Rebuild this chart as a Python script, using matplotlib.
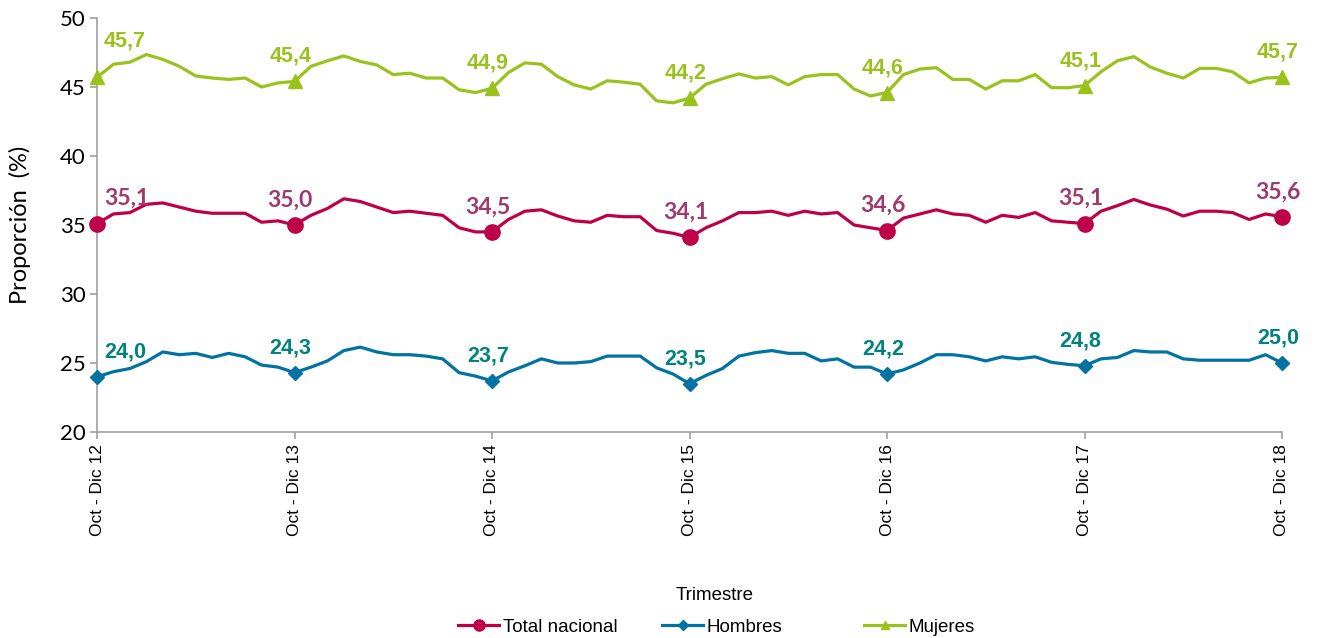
import matplotlib.pyplot as plt
from matplotlib.lines import Line2D

# 73 rolling quarters, Oct-Dic 12 ... Oct-Dic 18 (monthly steps)
tick_labels = ["Oct - Dic 12", "Oct - Dic 13", "Oct - Dic 14", "Oct - Dic 15",
               "Oct - Dic 16", "Oct - Dic 17", "Oct - Dic 18"]

total = [35.1, 35.8, 35.9, 36.5, 36.6, 36.3, 36.0, 35.85, 35.85, 35.85, 35.2, 35.3,
         35.0, 35.7, 36.2, 36.9, 36.7, 36.3, 35.9, 36.0, 35.85, 35.7, 34.8, 34.5,
         34.5, 35.4, 36.0, 36.1, 35.65, 35.3, 35.2, 35.7, 35.6, 35.6, 34.6, 34.4,
         34.1, 34.8, 35.3, 35.9, 35.9, 36.0, 35.7, 36.0, 35.8, 35.9, 35.0, 34.8,
         34.6, 35.5, 35.8, 36.1, 35.8, 35.7, 35.2, 35.7, 35.55, 35.9, 35.3, 35.2,
         35.1, 36.0, 36.4, 36.85, 36.45, 36.15, 35.65, 36.0, 36.0, 35.9, 35.4, 35.8,
         35.6]

hombres = [24.0, 24.37, 24.6, 25.1, 25.8, 25.6, 25.7, 25.4, 25.7, 25.45, 24.85, 24.7,
           24.3, 24.7, 25.15, 25.9, 26.15, 25.8, 25.6, 25.6, 25.5, 25.3, 24.3, 24.05,
           23.7, 24.35, 24.8, 25.3, 25.0, 25.0, 25.1, 25.5, 25.5, 25.5, 24.65, 24.2,
           23.5, 24.1, 24.6, 25.5, 25.75, 25.9, 25.7, 25.7, 25.15, 25.3, 24.7, 24.7,
           24.2, 24.5, 25.0, 25.6, 25.6, 25.45, 25.15, 25.45, 25.3, 25.45, 25.05, 24.9,
           24.8, 25.3, 25.4, 25.9, 25.8, 25.8, 25.3, 25.2, 25.2, 25.2, 25.2, 25.6,
           25.0]

mujeres = [45.7, 46.65, 46.8, 47.35, 47.0, 46.5, 45.8, 45.65, 45.55, 45.65, 45.0, 45.3,
           45.4, 46.5, 46.9, 47.25, 46.85, 46.6, 45.9, 46.0, 45.65, 45.65, 44.8, 44.6,
           44.9, 46.05, 46.75, 46.65, 45.75, 45.15, 44.85, 45.45, 45.35, 45.2, 44.0, 43.85,
           44.2, 45.2, 45.6, 45.95, 45.65, 45.75, 45.15, 45.75, 45.9, 45.9, 44.85, 44.35,
           44.6, 45.9, 46.3, 46.4, 45.55, 45.55, 44.85, 45.45, 45.45, 45.9, 44.95, 44.95,
           45.1, 46.1, 46.9, 47.2, 46.45, 46.0, 45.65, 46.35, 46.35, 46.1, 45.3, 45.65,
           45.7]

x = list(range(len(total)))
ticks = x[::12]

c_tot, c_tot_lab = "#BE0049", "#9E3A6E"
c_hom, c_hom_lab = "#0073A2", "#00837E"
c_muj = "#99C31C"
gray = "#A0A0A0"
arial = "Liberation Sans"
calibri = "Lato"

fig = plt.figure(figsize=(13.24, 6.38), dpi=100)
ax = fig.add_axes([97 / 1324, 1 - 432 / 638, 1185 / 1324, 414 / 638])

ax.plot(x, total, color=c_tot, lw=2.3, marker="o", ms=11, markevery=12, clip_on=False, zorder=3)
ax.plot(x, hombres, color=c_hom, lw=2.3, marker="D", ms=7.5, markevery=12, clip_on=False, zorder=3)
ax.plot(x, mujeres, color=c_muj, lw=2.3, marker="^", ms=10, markevery=12, clip_on=False, zorder=3)

series = [(total, c_tot_lab, calibri, 16.5), (hombres, c_hom_lab, arial, 15.5),
          (mujeres, c_muj, arial, 15.5)]
for vals, col, fam, fs in series:
    for i in ticks:
        txt = f"{vals[i]:.1f}".replace(".", ",")
        if i == 0:
            dx, ha = 5, "left"
        else:
            dx, ha = -3, "center"
        dy = 26 if (i == 0 and vals is mujeres) else 18
        ax.annotate(txt, (i, vals[i]), xytext=(dx, dy), textcoords="offset points",
                    ha=ha, va="center", color=col, fontsize=fs, fontweight="bold",
                    family=fam)

ax.set_xlim(0, 72)
ax.set_ylim(20, 50)
ax.set_yticks(range(20, 51, 5))
ax.set_xticks(ticks)
ax.set_xticklabels(tick_labels, rotation=90, family=arial, fontsize=12.5)
for lab in ax.get_yticklabels():
    lab.set_family(calibri)
    lab.set_fontsize(16)
ax.tick_params(axis="both", colors=gray, length=5, width=1.2, labelcolor="black")
ax.tick_params(axis="y", pad=3)
ax.tick_params(axis="x", pad=4)

for side in ["top", "right"]:
    ax.spines[side].set_visible(False)
for side in ["left", "bottom"]:
    ax.spines[side].set_color(gray)
    ax.spines[side].set_linewidth(1.2)

ax.set_ylabel("Proporción  (%)", family=calibri, fontsize=17, labelpad=21)
fig.text(715 / 1324, 1 - 595 / 638, "Trimestre", ha="center", va="center",
         family=arial, fontsize=13.5)

entries = [("Total nacional", c_tot, "o", 8, 458),
           ("Hombres", c_hom, "D", 5, 662),
           ("Mujeres", c_muj, "^", 6, 864)]
for name, col, mk, ms, px in entries:
    h = Line2D([], [], color=col, lw=2.3, marker=mk, ms=ms)
    fig.legend(handles=[h], labels=[name], loc="center left",
               bbox_to_anchor=(px / 1324, 1 - 627 / 638), frameon=False,
               borderpad=0, borderaxespad=0, handlelength=2.2, handletextpad=0.2,
               prop={"family": arial, "size": 13.5})

fig.savefig("out.png", dpi=100)
